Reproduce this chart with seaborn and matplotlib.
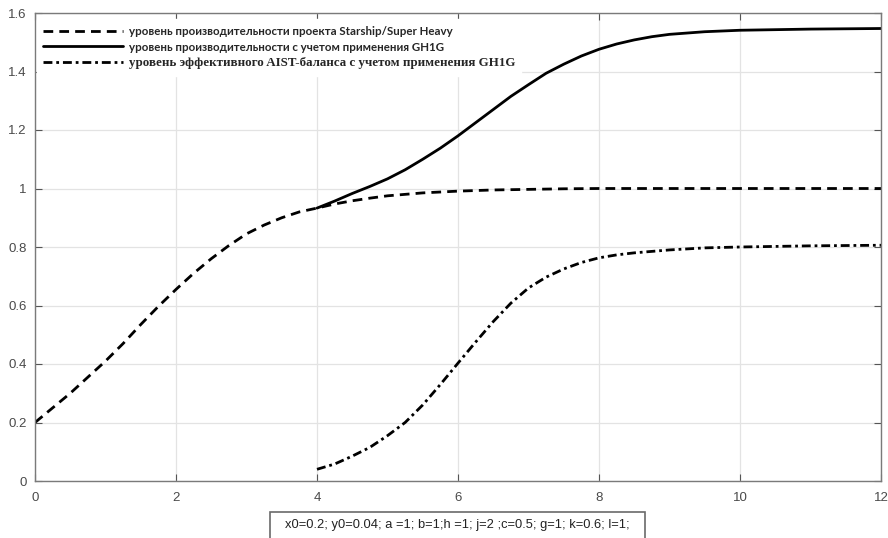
import matplotlib
matplotlib.use("Agg")
import matplotlib.pyplot as plt
import seaborn as sns
import pandas as pd
from matplotlib.patches import Rectangle
from matplotlib.ticker import FuncFormatter

# ---- data ----
x_base = [0, 0.25, 0.5, 0.75, 1, 1.25, 1.5, 1.75, 2, 2.25, 2.5, 2.75, 3, 3.25, 3.5, 3.75,
          4, 4.25, 4.5, 4.75, 5, 5.25, 5.5, 5.75, 6, 6.5, 7, 7.5, 8, 9, 10, 11, 12]
y_base = [0.20, 0.25, 0.30, 0.355, 0.41, 0.47, 0.535, 0.597, 0.655, 0.71, 0.76, 0.805,
          0.845, 0.875, 0.90, 0.92, 0.933, 0.947, 0.958, 0.967, 0.975, 0.98, 0.985, 0.988,
          0.991, 0.995, 0.997, 0.999, 1.0, 1.0, 1.0, 1.0, 1.0]

x_gh = [4, 4.25, 4.5, 4.75, 5, 5.25, 5.5, 5.75, 6, 6.25, 6.5, 6.75, 7, 7.25, 7.5, 7.75,
        8, 8.25, 8.5, 8.75, 9, 9.5, 10, 10.5, 11, 11.5, 12]
y_gh = [0.933, 0.957, 0.983, 1.007, 1.033, 1.064, 1.10, 1.138, 1.18, 1.225, 1.27, 1.315,
        1.355, 1.394, 1.425, 1.453, 1.476, 1.494, 1.508, 1.519, 1.527, 1.536, 1.541,
        1.543, 1.545, 1.546, 1.547]

x_aist = [4, 4.25, 4.5, 4.75, 5, 5.25, 5.5, 5.75, 6, 6.25, 6.5, 6.75, 7, 7.25, 7.5, 7.75,
          8, 8.25, 8.5, 9, 9.5, 10, 10.5, 11, 11.5, 12]
y_aist = [0.04, 0.058, 0.085, 0.115, 0.155, 0.20, 0.26, 0.33, 0.403, 0.475, 0.545, 0.608,
          0.66, 0.697, 0.725, 0.747, 0.763, 0.773, 0.78, 0.79, 0.797, 0.80, 0.802, 0.804,
          0.805, 0.806]

labels = ["уровень производительности проекта Starship/Super Heavy",
          "уровень производительности с учетом применения GH1G",
          "уровень эффективного AIST-баланса с учетом применения GH1G"]
x_ticks = [0, 2, 4, 6, 8, 10, 12]
y_ticks = [0, 0.2, 0.4, 0.6, 0.8, 1.0, 1.2, 1.4, 1.6]
param_text = "x0=0.2; y0=0.04; a =1; b=1;h =1; j=2 ;c=0.5; g=1; k=0.6; l=1;"

# ---- styling ----
sns.set_theme(style="whitegrid")
plt.rcParams['font.family'] = ['Liberation Sans', 'DejaVu Sans']

fig = plt.figure(figsize=(8.88, 5.38), dpi=100)
ax = fig.add_axes([35 / 888, 1 - 481 / 538, (881 - 35) / 888, (481 - 13) / 538])

df_base = pd.DataFrame({"x": x_base, "y": y_base})
df_gh = pd.DataFrame({"x": x_gh, "y": y_gh})
df_aist = pd.DataFrame({"x": x_aist, "y": y_aist})

sns.lineplot(data=df_base, x="x", y="y", ax=ax, color="black", lw=2.0, label=labels[0])
sns.lineplot(data=df_gh, x="x", y="y", ax=ax, color="black", lw=2.0, label=labels[1])
sns.lineplot(data=df_aist, x="x", y="y", ax=ax, color="black", lw=2.0, label=labels[2])
lines = ax.get_lines()
lines[0].set_dashes([3.5, 2.2])
lines[1].set_linestyle("-")
lines[2].set_dashes([3.2, 1.4, 1.0, 1.4])

ax.set_xlim(0, 12)
ax.set_ylim(0, 1.6)
ax.set_xticks(x_ticks)
ax.set_yticks(y_ticks)
fmt = FuncFormatter(lambda v, p: f"{v:g}")
ax.xaxis.set_major_formatter(fmt)
ax.yaxis.set_major_formatter(fmt)
ax.set_xlabel("")
ax.set_ylabel("")

ax.grid(True, color="#e3e3e3", linewidth=0.9)
for s in ax.spines.values():
    s.set_visible(True)
    s.set_color("#7a7a7a")
    s.set_linewidth(1.0)
ax.tick_params(axis="both", direction="in", length=5, width=0.8, color="#555555",
               labelcolor="#4a4a4a", labelsize=9.5, top=True, right=True,
               bottom=True, left=True, pad=6)
ax.tick_params(axis="x", pad=8)

leg = ax.legend(loc="upper left", bbox_to_anchor=(0.0, 1.0), frameon=True, fancybox=False,
                framealpha=1.0, edgecolor="white", facecolor="white",
                handlelength=6.9, handletextpad=0.5, labelspacing=0.42,
                borderpad=0.55, borderaxespad=0.55,
                prop={"family": ["Lato", "DejaVu Sans"], "weight": "bold", "size": 8.3})
leg.set_bbox_to_anchor((-0.005, 1.0), transform=ax.transAxes)
for h in leg.get_lines():
    h.set_linewidth(2.0)
txts = leg.get_texts()
txts[2].set_fontfamily(["Liberation Serif", "DejaVu Serif"])
txts[2].set_fontsize(9.4)

# parameter box below the plot
fig.patches.append(Rectangle((270 / 888, -0.02), (645 - 270) / 888, 0.02 + (538 - 512) / 538,
                             transform=fig.transFigure, facecolor="white",
                             edgecolor="#6a6a6a", linewidth=1.2))
fig.text(457 / 888, 1 - 525 / 538, param_text, ha="center", va="center",
         fontsize=9.3, color="#222222", family="Liberation Sans")

fig.savefig("out.png", dpi=100)
